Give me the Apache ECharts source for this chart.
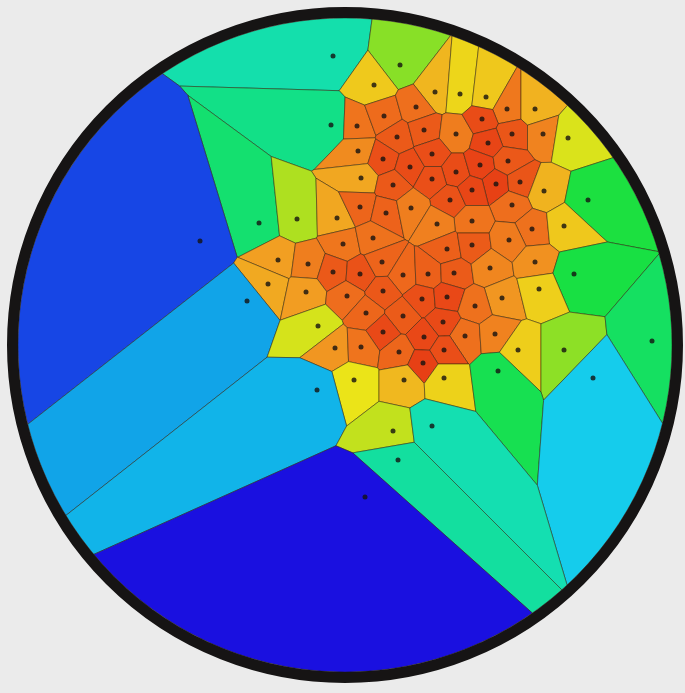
<!DOCTYPE html>
<html>
<head>
<meta charset="utf-8">
<script src="https://cdn.jsdelivr.net/npm/echarts@6/dist/echarts.min.js"></script>
<style>
  html, body { margin: 0; padding: 0; background: #ebebeb; }
  #main { width: 685px; height: 693px; }
</style>
</head>
<body>
<div id="main"></div>
<script>
// sites of the voronoi diagram (pixel units, y going down)
var siteX = [333, 400, 374, 435, 460, 486, 507, 535, 331, 357, 384, 416, 397, 424, 456, 482, 512, 488, 543, 568,
  358, 383, 410, 432, 456, 480, 508, 496, 520, 544, 588, 361, 393, 432, 450, 472, 512, 472, 532, 564,
  259, 297, 337, 360, 386, 411, 437, 200, 343, 373, 447, 472, 509, 278, 308, 333, 360, 382, 403, 428,
  454, 490, 535, 574, 268, 306, 347, 383, 422, 447, 502, 539, 247, 366, 403, 443, 475, 318, 383, 424,
  465, 495, 335, 361, 399, 444, 518, 564, 652, 423, 354, 404, 444, 498, 593, 317, 393, 432, 398, 365];
var siteY = [56, 65, 85, 92, 94, 97, 109, 109, 125, 126, 116, 107, 137, 130, 134, 119, 134, 143, 134, 138,
  151, 159, 167, 154, 172, 165, 161, 184, 182, 191, 200, 178, 185, 179, 200, 190, 205, 221, 229, 226,
  223, 219, 218, 207, 213, 208, 224, 241, 244, 238, 249, 245, 240, 260, 264, 272, 274, 262, 275, 274,
  273, 268, 262, 274, 284, 292, 296, 291, 299, 297, 298, 289, 301, 313, 316, 322, 306, 326, 332, 337,
  336, 334, 348, 347, 352, 350, 350, 350, 341, 363, 380, 380, 378, 371, 378, 390, 431, 426, 460, 497];

// disc that holds the diagram
var CX = 345, CY = 345, R_IN = 327, RING = 11;

// colour ramp over log10(cell area): stop positions and colours
var rampAt = [2.77, 2.95, 3.13, 3.31, 3.5, 3.7, 3.95, 4.2, 4.39, 4.57, 4.75];
var rampColor = ['#e63a14', '#ee6a1c', '#f2a022', '#ece418', '#a8e020', '#18e040',
  '#12e090', '#18dcef', '#10b0e8', '#1560e8', '#1a10e0'];

function hex(c) { return [parseInt(c.substr(1, 2), 16), parseInt(c.substr(3, 2), 16), parseInt(c.substr(5, 2), 16)]; }
function buildRamp(n) {
  var lo = rampAt[0], hi = rampAt[rampAt.length - 1];
  var out = [];
  for (var k = 0; k < n; k++) {
    var v = lo + (hi - lo) * k / (n - 1);
    var s = 0;
    while (s < rampAt.length - 2 && v > rampAt[s + 1]) s++;
    var t = (v - rampAt[s]) / (rampAt[s + 1] - rampAt[s]);
    t = Math.max(0, Math.min(1, t));
    var a = hex(rampColor[s]), b = hex(rampColor[s + 1]);
    out.push('rgb(' + [0, 1, 2].map(function (q) { return Math.round(a[q] + (b[q] - a[q]) * t); }).join(',') + ')');
  }
  return out;
}

function clipHalf(poly, sx, sy, ox, oy) {
  var mx = (sx + ox) / 2, my = (sy + oy) / 2;
  var dx = ox - sx, dy = oy - sy;
  var out = [];
  function side(p) { return (p[0] - mx) * dx + (p[1] - my) * dy; }
  for (var i = 0; i < poly.length; i++) {
    var a = poly[i], b = poly[(i + 1) % poly.length];
    var fa = side(a), fb = side(b);
    if (fa <= 0) out.push(a);
    if ((fa <= 0) != (fb <= 0)) {
      var t = fa / (fa - fb);
      out.push([a[0] + (b[0] - a[0]) * t, a[1] + (b[1] - a[1]) * t]);
    }
  }
  return out;
}
function area(poly) {
  var s = 0;
  for (var i = 0; i < poly.length; i++) {
    var a = poly[i], b = poly[(i + 1) % poly.length];
    s += a[0] * b[1] - b[0] * a[1];
  }
  return Math.abs(s) / 2;
}

var disc = [];
for (var k = 0; k < 360; k++) {
  var ang = k / 360 * Math.PI * 2;
  disc.push([CX + R_IN * Math.cos(ang), CY + R_IN * Math.sin(ang)]);
}

var cells = [];
var cellData = [];
for (var i = 0; i < siteX.length; i++) {
  var poly = disc.slice();
  for (var j = 0; j < siteX.length; j++) {
    if (j == i) continue;
    poly = clipHalf(poly, siteX[i], siteY[i], siteX[j], siteY[j]);
    if (poly.length == 0) break;
  }
  cells.push(poly);
  cellData.push([siteX[i], siteY[i], Math.log10(Math.max(area(poly), 1)), i]);
}

function renderCell(params, api) {
  var poly = cells[api.value(3)];
  return {
    type: 'polygon',
    shape: { points: poly.map(function (p) { return api.coord(p); }) },
    style: { fill: api.visual('color'), stroke: 'rgba(40,30,10,0.7)', lineWidth: 0.7 }
  };
}
function renderRing(params, api) {
  var c = api.coord([api.value(0), api.value(1)]);
  var r = api.size([api.value(2), 0])[0];
  return {
    type: 'circle',
    shape: { cx: c[0], cy: c[1], r: r },
    style: { fill: 'none', stroke: '#161414', lineWidth: RING }
  };
}

var chartDom = document.getElementById('main');
var myChart = echarts.init(chartDom);
var option = {
  backgroundColor: '#ebebeb',
  animation: false,
  grid: { left: 0, right: 0, top: 0, bottom: 0 },
  xAxis: { type: 'value', min: 0, max: 685, show: false },
  yAxis: { type: 'value', min: 0, max: 693, inverse: true, show: false },
  visualMap: {
    show: false,
    type: 'continuous',
    seriesIndex: 0,
    dimension: 2,
    min: rampAt[0],
    max: rampAt[rampAt.length - 1],
    inRange: { color: buildRamp(100) }
  },
  series: [
    { type: 'custom', renderItem: renderCell, data: cellData, encode: { x: 0, y: 1 }, clip: false },
    { type: 'custom', renderItem: renderRing, data: [[CX, CY, R_IN + RING / 2]], clip: false },
    {
      type: 'scatter',
      data: siteX.map(function (x, i) { return [x, siteY[i]]; }),
      symbolSize: 5,
      itemStyle: { color: '#141210' }
    }
  ]
};
option && myChart.setOption(option);
</script>
</body>
</html>
